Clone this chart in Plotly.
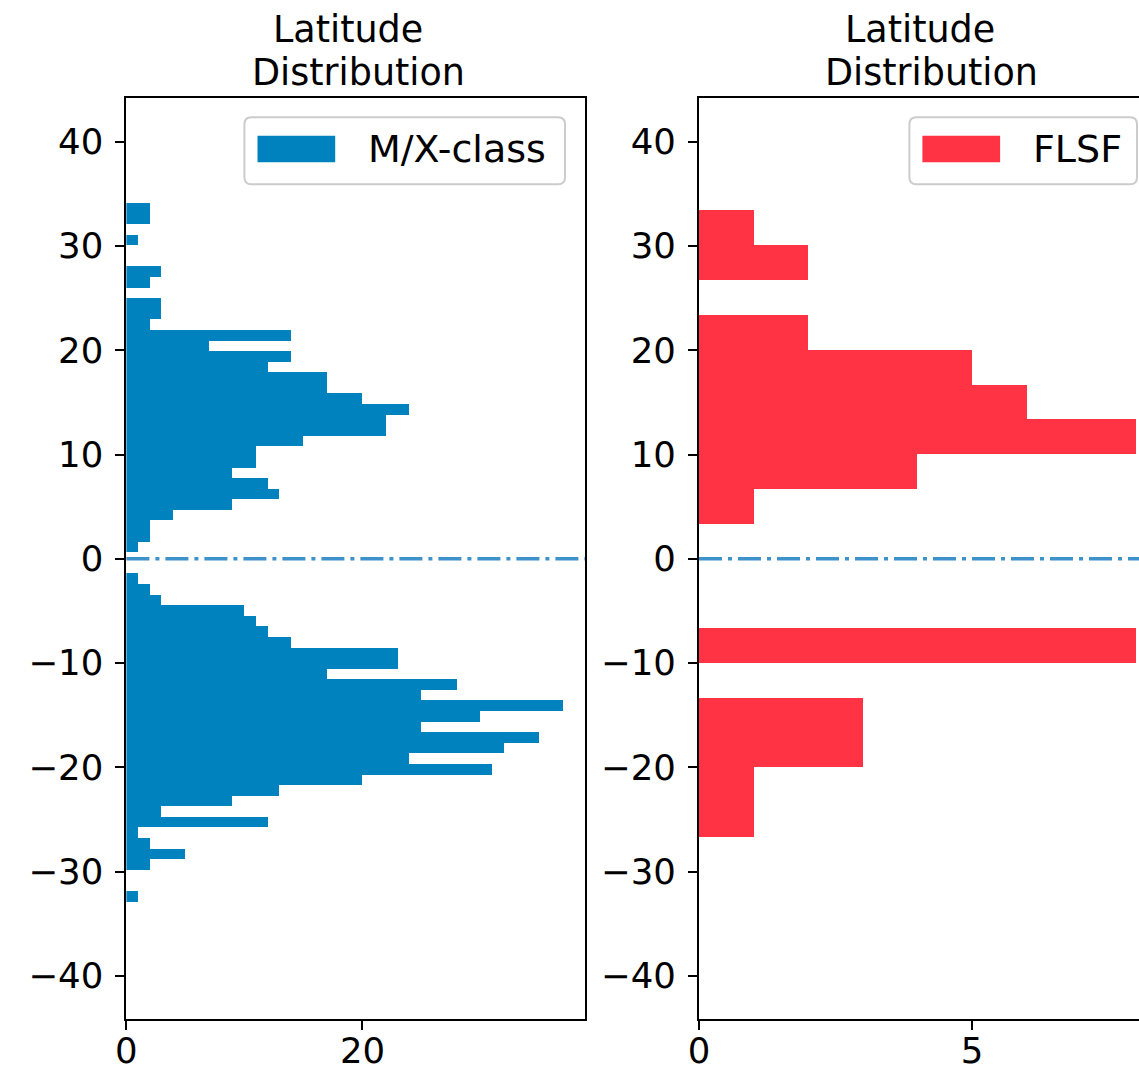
import numpy as np
import plotly.graph_objects as go

# ---------------- data ----------------
# M/X-class flare latitude histogram: 66 equal bins, counts listed bottom -> top
mx_lat_min, mx_lat_max = -32.9, 34.1
mx_counts = [1, 0, 0, 2, 5, 2,
             1, 12, 3, 9, 13, 20, 31, 24, 32, 35,
             25, 30, 37, 25, 28, 17, 23, 23, 14, 12,
             11, 10, 3, 2, 1, 0, 0, 1, 2, 2,
             4, 9, 13, 12, 9, 11, 11, 15, 22, 22,
             24, 20, 17, 17, 12, 14, 7, 14, 2, 3,
             3, 0, 2, 3, 0, 0, 1, 0, 2, 2]

# FLSF latitude histogram: 18 equal bins, counts listed bottom -> top
flsf_lat_min, flsf_lat_max = -26.72, 33.38
flsf_counts = [1, 1, 3, 3, 0, 8, 0, 0, 0, 1, 4, 8, 6, 5, 2, 0, 2, 1]

series_names = ["M/X-class", "FLSF"]
y_tick_vals = [-40, -30, -20, -10, 0, 10, 20, 30, 40]
x_tick_vals_left = [0, 20]
x_tick_vals_right = [0, 5]
panel_title = ["Latitude", "Distribution"]

# ---------------- styling ----------------
W, H = 1139, 1072
BLUE = "#0082BE"
RED = "#FF3343"
LINE_BLUE = "#3e92cb"
FONT = "DejaVu Sans"
TICK_SIZE = 35.5
TITLE_SIZE = 36.5
LEGEND_SIZE = 38

# axes placement in pixels
ax_top, ax_bot = 98.3, 1019.3
left_x0, left_x1 = 126.4, 585.0
right_x0 = 699.0
axes_w = left_x1 - left_x0
y_range = [-44.17, 44.17]
x_range_left = [0, 38.85]
right_full_max = 8.4
x_range_right = [0, right_full_max * (W - right_x0) / axes_w]


def px(x):
    return x / W


def py(y):
    return 1 - y / H


def hist_bars(lo, hi, counts):
    edges = np.linspace(lo, hi, len(counts) + 1)
    centers = (edges[:-1] + edges[1:]) / 2
    return centers, edges[1] - edges[0]


mx_centers, mx_w = hist_bars(mx_lat_min, mx_lat_max, mx_counts)
fl_centers, fl_w = hist_bars(flsf_lat_min, flsf_lat_max, flsf_counts)

fig = go.Figure()
fig.add_trace(go.Bar(y=mx_centers, x=mx_counts, width=mx_w, orientation="h",
                     marker=dict(color=BLUE, line=dict(width=0)),
                     name=series_names[0], xaxis="x", yaxis="y"))
fig.add_trace(go.Bar(y=fl_centers, x=flsf_counts, width=fl_w, orientation="h",
                     marker=dict(color=RED, line=dict(width=0)),
                     name=series_names[1], xaxis="x2", yaxis="y2"))

tickfont = dict(family=FONT, size=TICK_SIZE, color="black")
common_axis = dict(showline=True, linecolor="black", linewidth=2,
                   ticks="outside", ticklen=9, tickwidth=2, tickcolor="black",
                   showgrid=False, zeroline=False, tickfont=tickfont,
                   automargin=False)

fig.update_layout(
    width=W, height=H,
    margin=dict(l=0, r=0, t=0, b=0, autoexpand=False),
    paper_bgcolor="white", plot_bgcolor="white",
    showlegend=False, bargap=0,
    xaxis=dict(domain=[px(left_x0), px(left_x1)], range=x_range_left,
               tickvals=x_tick_vals_left, anchor="y", mirror=True,
               ticklabelstandoff=-10, **common_axis),
    yaxis=dict(domain=[py(ax_bot), py(ax_top)], range=y_range,
               tickvals=y_tick_vals, anchor="x", mirror=True,
               ticklabelstandoff=5, **common_axis),
    xaxis2=dict(domain=[px(right_x0), 1.0], range=x_range_right,
                tickvals=x_tick_vals_right, anchor="y2", mirror=True,
                ticklabelstandoff=-10, **common_axis),
    yaxis2=dict(domain=[py(ax_bot), py(ax_top)], range=y_range,
                tickvals=y_tick_vals, anchor="x2", mirror=False,
                ticklabelstandoff=5, **common_axis),
)

# dash-dot equator lines
for xr, yr in (("x domain", "y"), ("x2 domain", "y2")):
    fig.add_shape(type="line", xref=xr, yref=yr, x0=0, x1=1, y0=0, y1=0,
                  line=dict(color=LINE_BLUE, width=3.5, dash="23px,6px,4px,6px"),
                  layer="above")

# panel titles
for cx in ((left_x0 + left_x1) / 2, right_x0 + axes_w / 2):
    for txt, base, dx in zip(panel_title, (42, 85), (-8, 3)):
        fig.add_annotation(x=px(cx + dx), y=py(base - 0.346 * TITLE_SIZE),
                           xref="paper", yref="paper",
                           text=txt, showarrow=False, xanchor="center", yanchor="middle",
                           font=dict(family=FONT, size=TITLE_SIZE, color="black"))


# legends (matplotlib style: rounded frame, wide colour patch)
def rounded_box(x0, y0, x1, y1, r):
    X = lambda v: px(v)
    Y = lambda v: py(v)
    return (f"M{X(x0 + r)},{Y(y0)} L{X(x1 - r)},{Y(y0)} Q{X(x1)},{Y(y0)} {X(x1)},{Y(y0 + r)} "
            f"L{X(x1)},{Y(y1 - r)} Q{X(x1)},{Y(y1)} {X(x1 - r)},{Y(y1)} "
            f"L{X(x0 + r)},{Y(y1)} Q{X(x0)},{Y(y1)} {X(x0)},{Y(y1 - r)} "
            f"L{X(x0)},{Y(y0 + r)} Q{X(x0)},{Y(y0)} {X(x0 + r)},{Y(y0)} Z")


legend_specs = [
    (244.4, 565.0, 257.5, 366.0, series_names[0], BLUE),
    (909.4, 1137.0, 922.4, 1030.5, series_names[1], RED),
]
for bx0, bx1, sx0, tx, label, col in legend_specs:
    fig.add_shape(type="path", xref="paper", yref="paper",
                  path=rounded_box(bx0, 117.3, bx1, 184.3, 7),
                  fillcolor="rgba(255,255,255,0.8)",
                  line=dict(color="#cccccc", width=2), layer="above")
    fig.add_shape(type="rect", xref="paper", yref="paper",
                  x0=px(sx0), x1=px(sx0 + 77.7), y0=py(162.3), y1=py(135.7),
                  fillcolor=col, line=dict(width=0), layer="above")
    fig.add_annotation(x=px(tx), y=py(162.3 - 0.346 * LEGEND_SIZE), xref="paper", yref="paper",
                       text=label, showarrow=False, xanchor="left", yanchor="middle",
                       font=dict(family=FONT, size=LEGEND_SIZE, color="black"))

fig.write_html("out.html")
